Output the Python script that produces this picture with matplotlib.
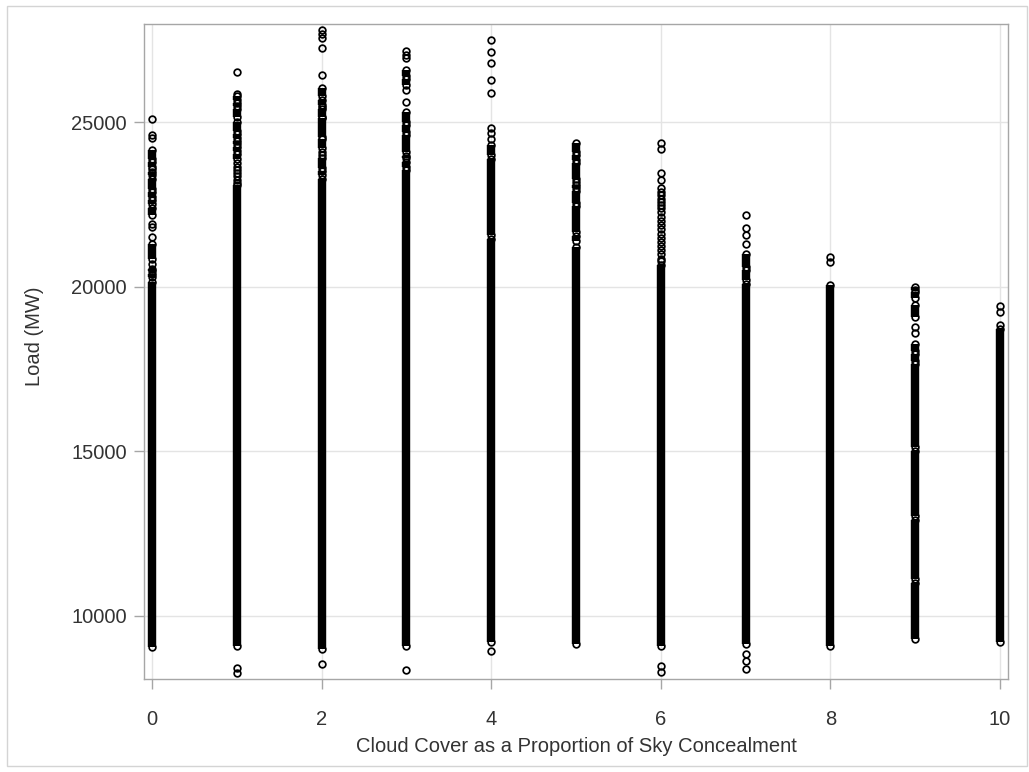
import matplotlib
matplotlib.use("Agg")
import matplotlib.pyplot as plt
from matplotlib.patches import Rectangle

plt.rcParams['font.family'] = ['Liberation Sans', 'DejaVu Sans']

# cloud cover classes (0 = clear sky, 10 = overcast)
cloud_cover = [0, 1, 2, 3, 4, 5, 6, 7, 8, 9, 10]

# stretches where hourly loads pile up into a continuous column (MW, low-high)
load_runs = [
    [(9060, 20140), (20300, 20380), (20470, 20540), (20850, 21300), (22170, 22400),
     (22500, 22620), (22720, 22870), (22970, 23280), (23380, 23490), (23640, 23780),
     (23880, 24150)],
    [(9085, 23080), (23880, 24030), (24120, 24230), (24320, 24430), (24530, 24640),
     (24740, 25010), (25160, 25400), (25480, 25590), (25680, 25780)],
    [(9000, 23280), (23380, 23500), (23600, 23900), (24200, 24480), (24560, 25110),
     (25160, 25400), (25530, 25680), (25780, 26025)],
    [(9090, 23540), (23640, 23800), (23900, 23980), (24080, 24600), (24705, 24900),
     (25000, 25313), (26126, 26300), (26400, 26580)],
    [(9200, 21460), (21560, 23890), (24000, 24300)],
    [(9150, 21200), (21400, 21550), (21650, 22450), (22550, 22900), (23000, 23100),
     (23280, 23750), (23850, 24000), (24100, 24350)],
    [(9080, 20650)],
    [(9140, 20090), (20190, 20500), (20600, 21000)],
    [(9090, 20040)],
    [(9300, 11000), (11130, 12900), (13030, 15000), (15130, 17650), (17750, 17950),
     (18050, 18250), (19080, 19430), (19650, 19830), (19900, 19990)],
    [(9210, 18720)],
]

# isolated hours away from the columns (MW)
load_points = [
    [20700, 21500, 21800, 21900, 23560, 24520, 24620, 25080],
    [8250, 8420, 23150, 23250, 23350, 23450, 23550, 23650, 23750, 25860, 26510],
    [8530, 24000, 24100, 25466, 26430, 27260, 27556, 27680, 27800],
    [8350, 25600, 25974, 26950, 27040, 27160],
    [8930, 24480, 24660, 24810, 25890, 26280, 26805, 27140, 27495],
    [23180],
    [8300, 8480, 20780, 20852, 21000, 21105, 21230, 21357, 21480, 21613, 21740, 21866,
     21990, 22120, 22270, 22380, 22474, 22580, 22677, 22790, 22879, 22990, 23235,
     23439, 24180, 24350],
    [8380, 8630, 8835, 21310, 21560, 21775, 22170],
    [20740, 20907],
    [18580, 18762],
    [18830, 19230, 19420],
]

MS = 4.8
MEW = 1.25
LW = MS + MEW

fig = plt.figure(figsize=(10.29, 7.72), dpi=100)
fig.patches.append(Rectangle((7 / 1029, 6 / 772), 1020 / 1029, 760 / 772,
                             transform=fig.transFigure, fill=False,
                             edgecolor='#d4d4d4', linewidth=1))

ax = fig.add_axes([144 / 1029, 1 - 679 / 772, 864 / 1029, 655 / 772])

for x, runs, pts in zip(cloud_cover, load_runs, load_points):
    for lo, hi in runs:
        ax.plot([x, x], [lo, hi], color='black', lw=LW, solid_capstyle='butt', zorder=3)
        ax.plot([x, x], [lo, hi], 'o', ms=MS, mfc='none', mec='black', mew=MEW, zorder=4)
    ax.plot([x] * len(pts), pts, 'o', ms=MS, mfc='none', mec='black', mew=MEW, zorder=4)

ax.set_xlim(-0.094, 10.094)
ax.set_ylim(8080, 27980)
ax.set_xticks([0, 2, 4, 6, 8, 10])
ax.set_yticks([10000, 15000, 20000, 25000])

ax.grid(color='#e4e4e4', lw=1)
ax.set_axisbelow(True)
for s in ax.spines.values():
    s.set_color('#a6a6a6')
    s.set_linewidth(1)
ax.tick_params(length=7.5, width=1, color='#a6a6a6', labelsize=14.5, labelcolor='#333333')
ax.tick_params(axis='x', pad=15)
ax.tick_params(axis='y', pad=5)

ax.set_xlabel('Cloud Cover as a Proportion of Sky Concealment', fontsize=14.5,
              color='#333333')
ax.set_ylabel('Load (MW)', fontsize=14.5, color='#333333')
ax.xaxis.set_label_coords(0.5, -0.0885)
ax.yaxis.set_label_coords(-0.116, 0.524)

fig.savefig('out.png', dpi=100)
